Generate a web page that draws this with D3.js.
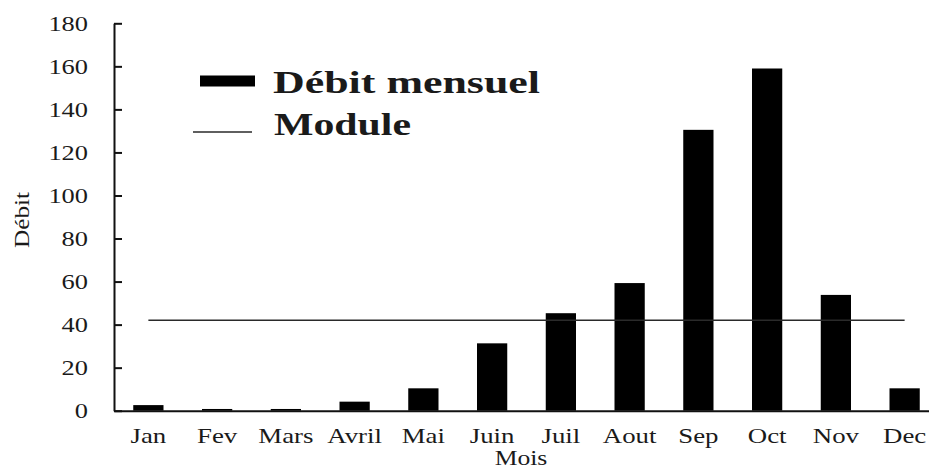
<!DOCTYPE html>
<html>
<head>
<meta charset="utf-8">
<script src="https://cdn.jsdelivr.net/npm/d3@7"></script>
<style>
  body { margin: 0; background: #fff; }
  svg { display: block; }
  text { font-family: "Liberation Serif", "Times New Roman", serif; fill: #1a1a1a; }
</style>
</head>
<body>
<svg width="929" height="471"></svg>
<script>
// monthly flow values
var months = ["Jan", "Fev", "Mars", "Avril", "Mai", "Juin", "Juil", "Aout", "Sep", "Oct", "Nov", "Dec"];
var debit = [2.6, 0.8, 0.8, 4.2, 10.4, 31.3, 45.3, 59.3, 130.5, 159, 53.8, 10.4];
var moduleValue = 42;
var yTicks = [0, 20, 40, 60, 80, 100, 120, 140, 160, 180];
var legendLabels = ["Débit mensuel", "Module"];

var svg = d3.select("svg"),
    width = +svg.attr("width"),
    height = +svg.attr("height");

var x0 = 114, x1 = 939, yTop = 23.3, yBottom = 410.7;

var x = d3.scaleBand()
    .domain(months)
    .range([x0, x1])
    .paddingInner(0.56)
    .paddingOuter(0.28);

var y = d3.scaleLinear()
    .domain([0, 180])
    .range([yBottom, yTop]);

// stretch text horizontally a bit, the original image is wider than normal
function stretch(sel, k) {
  sel.each(function() {
    var len = this.getComputedTextLength();
    d3.select(this).attr("textLength", len * k).attr("lengthAdjust", "spacingAndGlyphs");
  });
}

// bars
svg.append("g")
  .selectAll("rect")
  .data(debit)
  .enter().append("rect")
    .attr("x", function(d, i) { return x(months[i]); })
    .attr("y", function(d) { return y(d); })
    .attr("width", x.bandwidth())
    .attr("height", function(d) { return y(0) - y(d); })
    .attr("fill", "#000");

// module line from first to last month centre
svg.append("line")
    .attr("x1", x(months[0]) + x.bandwidth() / 2)
    .attr("x2", x(months[months.length - 1]) + x.bandwidth() / 2)
    .attr("y1", y(moduleValue))
    .attr("y2", y(moduleValue))
    .attr("stroke", "#2a2a2a")
    .attr("stroke-width", 1.6);

// y axis
var gy = svg.append("g")
    .attr("transform", "translate(" + x0 + ",0)")
    .call(d3.axisLeft(y).tickValues(yTicks).tickSize(-8).tickSizeOuter(0).tickPadding(26));
gy.select(".domain").attr("stroke", "#111").attr("stroke-width", 2);
gy.selectAll(".tick line").attr("stroke", "#111").attr("stroke-width", 2);
gy.selectAll("text").attr("font-size", 22).attr("font-family", "Liberation Serif").attr("fill", "#1a1a1a")
  .call(stretch, 1.2);

// x axis
var gx = svg.append("g")
    .attr("transform", "translate(0," + yBottom + ")")
    .call(d3.axisBottom(x).tickSize(0).tickPadding(17));
gx.select(".domain").attr("stroke", "#111").attr("stroke-width", 2);
gx.selectAll("text").attr("font-size", 22).attr("font-family", "Liberation Serif").attr("fill", "#1a1a1a")
  .call(stretch, 1.22);

// axis titles
svg.append("text")
    .attr("x", 521)
    .attr("y", 465)
    .attr("text-anchor", "middle")
    .attr("font-size", 21)
    .text("Mois")
    .call(stretch, 1.22);

svg.append("text")
    .attr("transform", "translate(29,220) rotate(-90)")
    .attr("text-anchor", "middle")
    .attr("font-size", 21)
    .text("Débit")
    .call(stretch, 1.2);

// legend
var legend = svg.append("g");
legend.append("rect")
    .attr("x", 200).attr("y", 75.5)
    .attr("width", 55).attr("height", 11)
    .attr("fill", "#000");
legend.append("line")
    .attr("x1", 193).attr("x2", 252)
    .attr("y1", 132).attr("y2", 132)
    .attr("stroke", "#2a2a2a").attr("stroke-width", 1.6);
legend.append("text")
    .attr("x", 273).attr("y", 93)
    .attr("font-size", 32).attr("font-weight", "bold")
    .attr("textLength", 267).attr("lengthAdjust", "spacingAndGlyphs")
    .text(legendLabels[0]);
legend.append("text")
    .attr("x", 274).attr("y", 135)
    .attr("font-size", 32).attr("font-weight", "bold")
    .attr("textLength", 137).attr("lengthAdjust", "spacingAndGlyphs")
    .text(legendLabels[1]);
</script>
</body>
</html>
